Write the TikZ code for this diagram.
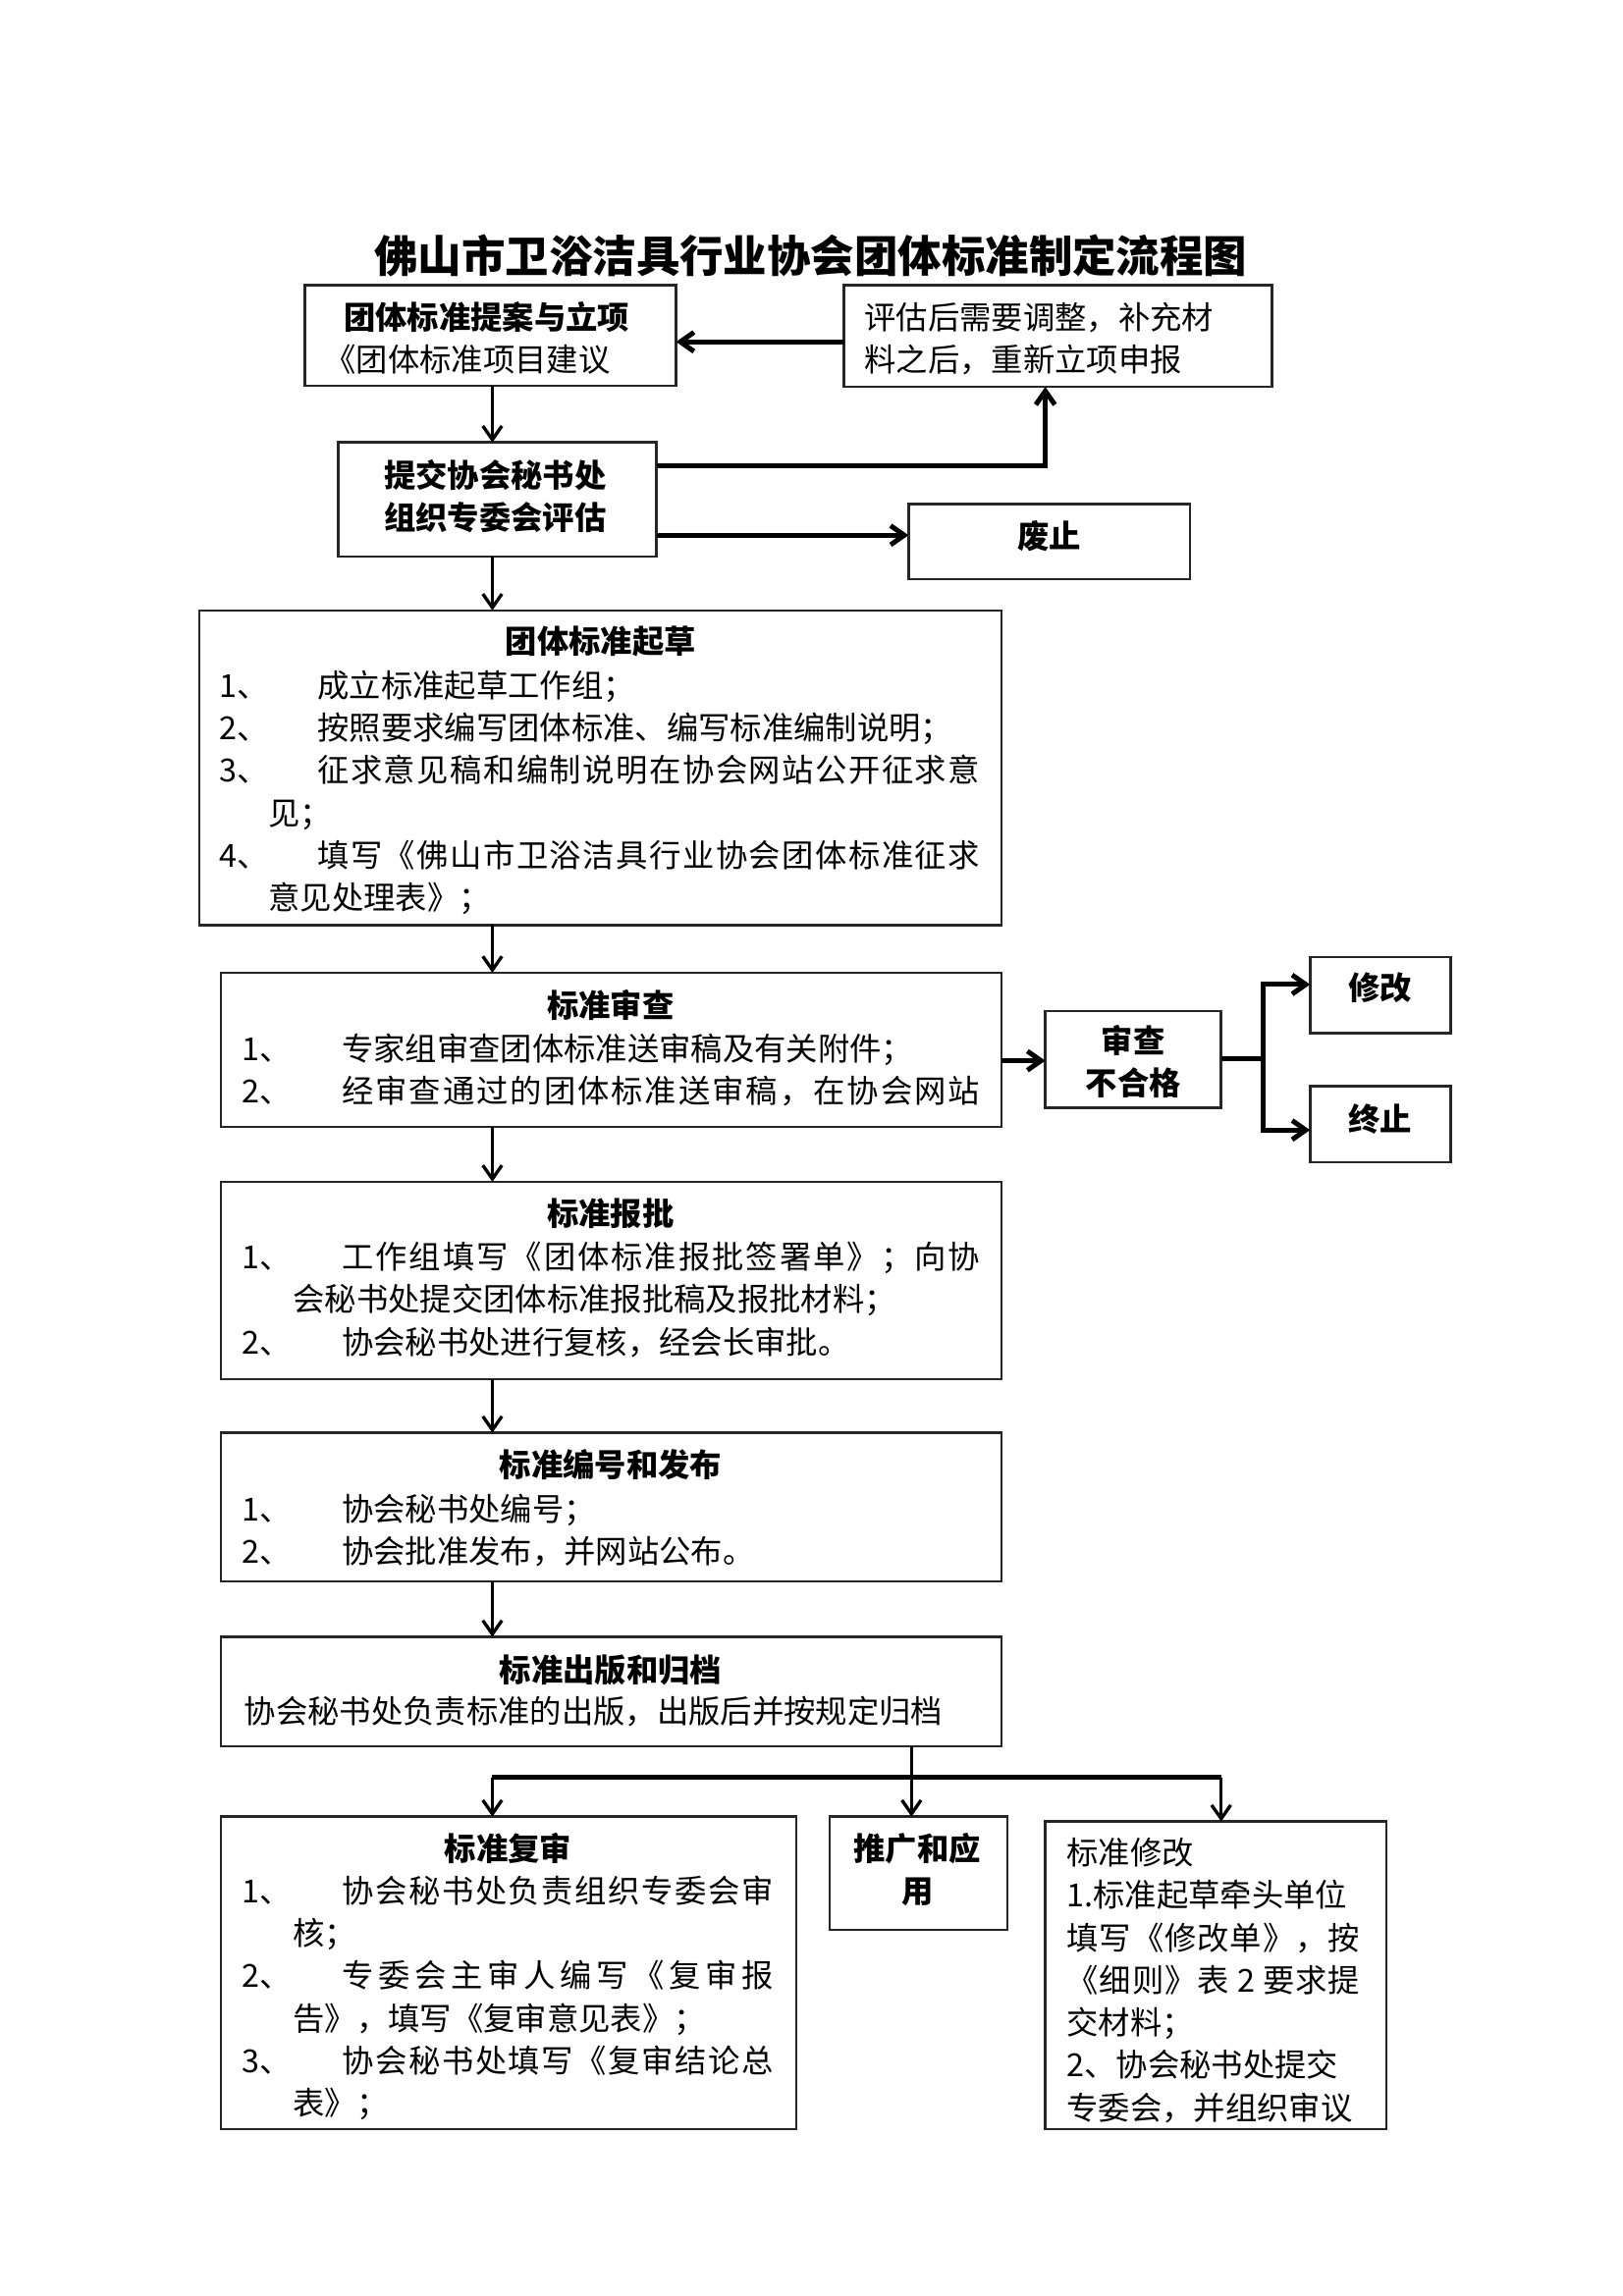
\documentclass[tikz,border=0pt]{standalone}
\usepackage{fontspec}
\setmainfont{Noto Sans CJK SC}
\usetikzlibrary{arrows.meta}
\newdimen\px \px=0.3582pt
\newcommand\tline[1]{\hbox{#1}}
\def\spreadx#1{#1\spready}
\def\spready#1{\ifx#1\relax\else\hfil#1\expandafter\spready\fi}
\newcommand\jl[2]{\hbox to #1\px{\spreadx #2\relax}}
\newcommand\nm[1]{\makebox[100\px][l]{#1}}
\newcommand\nmb[1]{\makebox[102\px][l]{#1}}
\newcommand\txtlines[1]{\vtop{\baselineskip=43.5\px\lineskip=0pt\lineskiplimit=-20pt\relax #1}}
\def\twoo{\ 2\ }
\tikzset{
 box/.style={draw=black!85, line width=0.9pt, inner sep=0pt, outer sep=0pt, anchor=north west},
 txt/.style={inner sep=0pt, outer sep=0pt, anchor=base west, font=\fontsize{11.64pt}{15.6pt}\selectfont},
 btxt/.style={txt, font=\fontsize{11.64pt}{15.6pt}\selectfont\bfseries},
 hdr/.style={inner sep=0pt, outer sep=0pt, anchor=base, font=\fontsize{11.64pt}{15.6pt}\selectfont\bfseries},
 arr/.style={line width=1.2pt, -{Straight Barb[length=5pt,width=7pt]}},
 tarr/.style={line width=1.8pt, -{Straight Barb[length=5pt,width=7pt]}},
}
\begin{document}
\begin{tikzpicture}[x=0.3582pt,y=-0.3582pt]
\fill[white] (0,0) rectangle (1661.3,2350.8);
\useasboundingbox (0,0) rectangle (1661.3,2350.8);

% title
\node[inner sep=0pt, anchor=base, font=\fontsize{16pt}{20pt}\selectfont\bfseries] (title) at (830,279) {佛山市卫浴洁具行业协会团体标准制定流程图};

% boxes
\node[box, minimum width=380\px, minimum height=103\px] (b1) at (312,292) {};
\node[box, minimum width=438\px, minimum height=104\px] (b2) at (864,292) {};
\node[box, minimum width=326\px, minimum height=117\px] (b3) at (346,453) {};
\node[box, minimum width=288\px, minimum height=77\px] (b4) at (930,516) {};
\node[box, minimum width=821\px, minimum height=322\px] (b5) at (204,625) {};
\node[box, minimum width=799\px, minimum height=158\px] (b6) at (226,996) {};
\node[box, minimum width=180\px, minimum height=99\px] (b7) at (1070,1035) {};
\node[box, minimum width=144\px, minimum height=78\px] (b8) at (1341,980) {};
\node[box, minimum width=144\px, minimum height=78\px] (b9) at (1341,1112) {};
\node[box, minimum width=799\px, minimum height=202\px] (b10) at (226,1210) {};
\node[box, minimum width=799\px, minimum height=152\px] (b11) at (226,1467) {};
\node[box, minimum width=799\px, minimum height=112\px] (b12) at (226,1676) {};
\node[box, minimum width=589\px, minimum height=320\px] (b13) at (226,1860) {};
\node[box, minimum width=182\px, minimum height=116\px] (b14) at (849,1860) {};
\node[box, minimum width=349\px, minimum height=315\px] (b15) at (1070,1865) {};

% texts
\node[btxt] (t1a) at (352,337) {团体标准提案与立项};
\node[txt] (t1b) at (332,380) {《团体标准项目建议};
\node[txt] (t2) at (885,337) {\txtlines{\tline{评估后需要调整，补充材}\tline{料之后，重新立项申报}}};
\node[btxt] (t3) at (393,499) {\txtlines{\tline{提交协会秘书处}\tline{组织专委会评估}}};
\node[hdr] (t4) at (1074,561) {废止};

\node[hdr] (h5) at (615,669) {团体标准起草};
\node[txt] (t5) at (225,714) {\txtlines{%
 \tline{\nm{1、}成立标准起草工作组；}%
 \tline{\nm{2、}按照要求编写团体标准、编写标准编制说明；}%
 \tline{\nm{3、}\jl{678}{征求意见稿和编制说明在协会网站公开征求意}}%
 \tline{\kern50\px 见；}%
 \tline{\nm{4、}\jl{678}{填写《佛山市卫浴洁具行业协会团体标准征求}}%
 \tline{\kern50\px 意见处理表》；}}};

\node[hdr] (h6) at (625,1042) {标准审查};
\node[txt] (t6) at (248,1086) {\txtlines{%
 \tline{\nmb{1、}专家组审查团体标准送审稿及有关附件；}%
 \tline{\nmb{2、}\jl{653}{经审查通过的团体标准送审稿，在协会网站}}}};

\node[hdr] (t7) at (1160,1078) {\txtlines{\hbox to 160\px{\hss 审查\hss}\hbox to 160\px{\hss 不合格\hss}}};
\node[hdr] (t8) at (1413,1024) {修改};
\node[hdr] (t9) at (1413,1158) {终止};

\node[hdr] (h10) at (625,1255) {标准报批};
\node[txt] (t10) at (248,1299) {\txtlines{%
 \tline{\nmb{1、}\jl{653}{工作组填写《团体标准报批签署单》；向协}}%
 \tline{\kern52\px 会秘书处提交团体标准报批稿及报批材料；}%
 \tline{\nmb{2、}协会秘书处进行复核，经会长审批。}}};

\node[hdr] (h11) at (625,1512) {标准编号和发布};
\node[txt] (t11) at (248,1557) {\txtlines{%
 \tline{\nmb{1、}协会秘书处编号；}%
 \tline{\nmb{2、}协会批准发布，并网站公布。}}};

\node[hdr] (h12) at (625,1722) {标准出版和归档};
\node[txt] (t12) at (250,1764) {协会秘书处负责标准的出版，出版后并按规定归档};

\node[hdr] (h13) at (520,1905) {标准复审};
\node[txt] (t13) at (248,1948) {\txtlines{%
 \tline{\nmb{1、}\jl{442}{协会秘书处负责组织专委会审}}%
 \tline{\kern52\px 核；}%
 \tline{\nmb{2、}\jl{442}{专委会主审人编写《复审报}}%
 \tline{\kern52\px 告》，填写《复审意见表》；}%
 \tline{\nmb{3、}\jl{442}{协会秘书处填写《复审结论总}}%
 \tline{\kern52\px 表》；}}};

\node[hdr] (t14) at (939,1905) {\txtlines{\hbox to 160\px{\hss 推广和应\hss}\hbox to 160\px{\hss 用\hss}}};

\node[txt] (t15) at (1092,1909) {\txtlines{%
 \tline{标准修改}%
 \tline{1.标准起草牵头单位}%
 \tline{\jl{300}{填写《修改单》，按}}%
 \tline{\jl{300}{《细则》表\twoo 要求提}}%
 \tline{交材料；}%
 \tline{2、协会秘书处提交}%
 \tline{专委会，并组织审议}}};

% connectors
\coordinate (cx) at (504,0);
\draw[arr] (b1.south -| cx) -- (b3.north -| cx);
\draw[arr] (b3.south -| cx) -- (b5.north -| cx);
\draw[arr] (b5.south -| cx) -- (b6.north -| cx);
\draw[arr] (b6.south -| cx) -- (b10.north -| cx);
\draw[arr] (b10.south -| cx) -- (b11.north -| cx);
\draw[arr] (b11.south -| cx) -- (b12.north -| cx);

\coordinate (ya) at (0,350);
\draw[tarr] (b2.west |- ya) -- (b1.east |- ya);
\coordinate (j1) at (1070,477);
\draw[tarr] (b3.east |- j1) -| (b2.south -| j1);
\coordinate (yb) at (0,548);
\draw[tarr] (b3.east |- yb) -- (b4.west |- yb);

\coordinate (yc) at (0,1086);
\draw[tarr] (b6.east |- yc) -- (b7.west |- yc);
\coordinate (j2) at (1293,1084);
\coordinate (j3) at (1293,1008);
\coordinate (j4) at (1293,1157);
\draw[line width=1.8pt] (b7.east |- j2) -- (j2);
\draw[tarr] (j2) |- (b8.west |- j3);
\draw[tarr] (j2) |- (b9.west |- j4);

\coordinate (d0) at (933,1820);
\coordinate (dl) at (504,1820);
\coordinate (dr) at (1250,1820);
\draw[line width=1.2pt] (b12.south -| d0) -- (d0);
\draw[line width=1.8pt] (dl) -- (dr);
\draw[arr] (dl) -- (b13.north -| dl);
\draw[arr] (d0) -- (b14.north -| d0);
\draw[arr] (dr) -- (b15.north -| dr);
\end{tikzpicture}
\end{document}
